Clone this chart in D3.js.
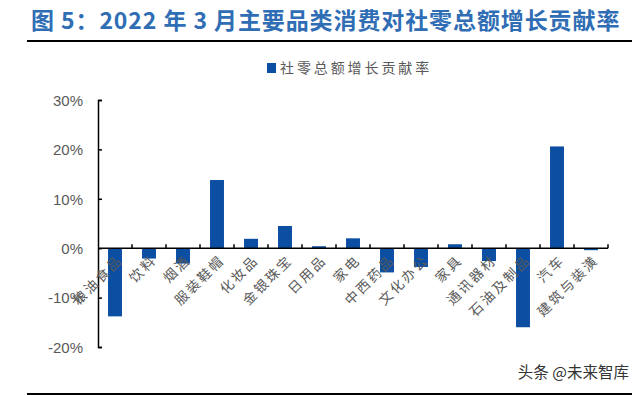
<!DOCTYPE html>
<html>
<head>
<meta charset="utf-8">
<script src="https://cdn.jsdelivr.net/npm/d3@7"></script>
<style>
  body { margin: 0; background: #fff; }
  svg { display: block; }
</style>
</head>
<body>
<script>
let categories = ["粮油食品", "饮料", "烟酒", "服装鞋帽", "化妆品", "金银珠宝", "日用品", "家电",
    "中西药品", "文化办公", "家具", "通讯器材", "石油及制品", "汽车", "建筑与装潢"];
let values = [-13.8, -2.1, -3.1, 13.8, 1.9, 4.5, 0.4, 2.0, -4.9, -3.8, 0.8, -2.6, -16.0, 20.6, -0.4];
let yTicks = [-20, -10, 0, 10, 20, 30];
let seriesName = "社零总额增长贡献率";
let title = "图 5：2022 年 3 月主要品类消费对社零总额增长贡献率";
let source = "头条 @未来智库";

let width = 640;
let height = 395;
let padding = { top: 100, right: 32, bottom: 48, left: 98 };
let barColor = "#0b4ea2";
let cjk = "'Noto Sans CJK SC', sans-serif";

let svg = d3.select("body")
    .append("svg")
    .attr("width", width)
    .attr("height", height);

// title + rules
svg.append("text")
    .attr("x", 31)
    .attr("y", 29)
    .text(title)
    .style("font-family", cjk)
    .style("font-weight", "bold")
    .style("font-size", "23px")
    .style("letter-spacing", "0.9px")
    .style("fill", "#2f6db4");

svg.append("line")
    .attr("x1", 27).attr("x2", 632)
    .attr("y1", 41).attr("y2", 41)
    .attr("stroke", "#000")
    .attr("stroke-width", 2);
svg.append("line")
    .attr("x1", 27).attr("x2", 632)
    .attr("y1", 394).attr("y2", 394)
    .attr("stroke", "#000")
    .attr("stroke-width", 2);

let xScale = d3.scaleBand()
    .domain(categories)
    .range([padding.left, width - padding.right])
    .paddingInner(0.59)
    .paddingOuter(0.295);

let yScale = d3.scaleLinear()
    .domain([-20, 30])
    .range([height - padding.bottom, padding.top]);

// bars
svg.append("g")
    .selectAll("rect")
    .data(values)
    .join("rect")
    .attr("x", (d, i) => xScale(categories[i]))
    .attr("width", xScale.bandwidth())
    .attr("y", (d) => yScale(Math.max(0, d)))
    .attr("height", (d) => Math.abs(yScale(d) - yScale(0)))
    .attr("fill", barColor);

// y axis
let yAxis = d3.axisRight(yScale)
    .tickValues(yTicks)
    .tickSize(4)
    .tickFormat((d) => d + "%");
let yG = svg.append("g")
    .attr("transform", "translate(" + padding.left + ",0)")
    .call(yAxis);
yG.select(".domain").attr("stroke", "#000").attr("stroke-width", 1.5);
yG.selectAll(".tick line").attr("stroke", "#000").attr("stroke-width", 1.5);
yG.selectAll(".tick text")
    .attr("x", -15)
    .attr("dy", "0.35em")
    .attr("text-anchor", "end")
    .style("font-family", "'Liberation Sans', Arial, sans-serif")
    .style("font-size", "15px")
    .style("fill", "#595959");

// x axis (band boundaries as ticks, pointing up)
let step = xScale.step();
let xLine = svg.append("g").attr("class", "xaxis");
xLine.append("line")
    .attr("x1", padding.left).attr("x2", width - padding.right)
    .attr("y1", yScale(0)).attr("y2", yScale(0))
    .attr("stroke", "#000").attr("stroke-width", 1.5);
xLine.selectAll("line.tk")
    .data(categories)
    .join("line")
    .attr("class", "tk")
    .attr("x1", (d) => xScale(d) - xScale.paddingOuter() * step + step)
    .attr("x2", (d) => xScale(d) - xScale.paddingOuter() * step + step)
    .attr("y1", yScale(0)).attr("y2", yScale(0) - 4)
    .attr("stroke", "#000").attr("stroke-width", 1.5);

// rotated category labels
svg.append("g")
    .selectAll("text")
    .data(categories)
    .join("text")
    .attr("transform", (d) => "translate(" + (xScale(d) + xScale.bandwidth() / 2 + 1) + "," + (yScale(0) + 5) + ") rotate(-45)")
    .attr("text-anchor", "end")
    .attr("dy", "0.8em")
    .text((d) => d)
    .style("font-family", cjk)
    .style("font-size", "13.5px")
    .style("letter-spacing", "2.5px")
    .style("fill", "#595959");

// legend
let legend = svg.append("g");
legend.append("rect")
    .attr("x", 267).attr("y", 63)
    .attr("width", 9).attr("height", 10)
    .attr("fill", barColor);
legend.append("text")
    .attr("x", 280)
    .attr("y", 68)
    .attr("dy", "0.35em")
    .text(seriesName)
    .style("font-family", cjk)
    .style("font-size", "14px")
    .style("letter-spacing", "2.9px")
    .style("fill", "#595959");

// source
svg.append("text")
    .attr("x", 629)
    .attr("y", 373)
    .attr("dy", "0.35em")
    .attr("text-anchor", "end")
    .text(source)
    .style("font-family", cjk)
    .style("font-size", "15.5px")
    .style("fill", "#333");
</script>
</body>
</html>
